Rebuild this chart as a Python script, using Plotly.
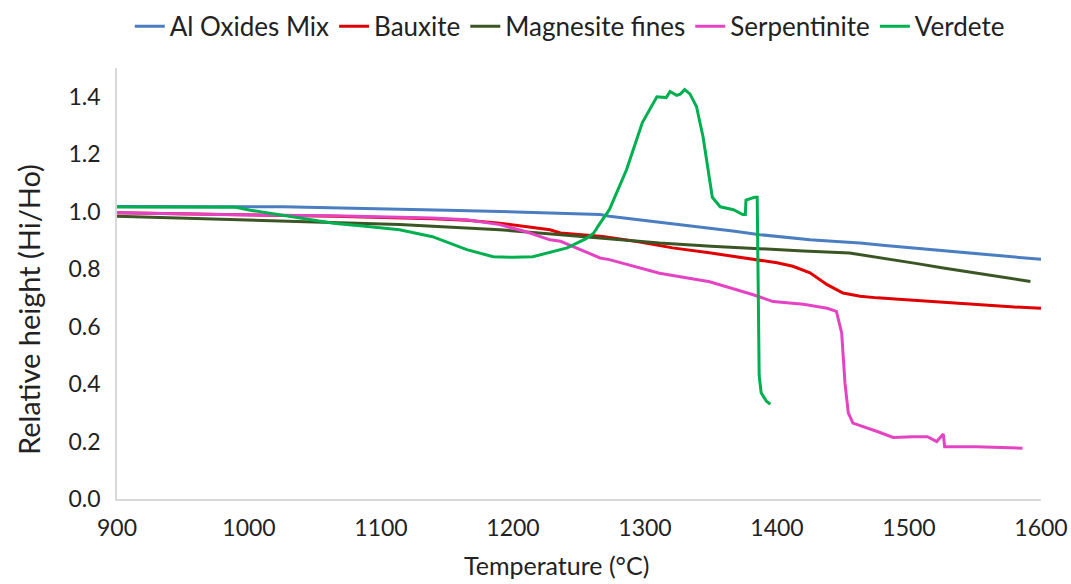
import plotly.graph_objects as go

# ---- data ----
al_T = [900, 950, 1026, 1070, 1114, 1150, 1190, 1236, 1266, 1273, 1290, 1311, 1330, 1349, 1368, 1387, 1405, 1425, 1445, 1463, 1482, 1501, 1520, 1539, 1560, 1580, 1600]
al_y = [1.018, 1.018, 1.017, 1.013, 1.010, 1.005, 1.001, 0.995, 0.990, 0.984, 0.975, 0.964, 0.953, 0.943, 0.932, 0.920, 0.911, 0.902, 0.896, 0.891, 0.882, 0.874, 0.866, 0.858, 0.850, 0.842, 0.834]

bx_T = [900, 988, 1064, 1139, 1165, 1190, 1210, 1228, 1236, 1268, 1295, 1321, 1350, 1382, 1400, 1412, 1425, 1438, 1450, 1463, 1476, 1495, 1514, 1540, 1564, 1580, 1600]
bx_y = [0.996, 0.990, 0.984, 0.975, 0.970, 0.960, 0.948, 0.937, 0.926, 0.914, 0.895, 0.874, 0.856, 0.833, 0.822, 0.810, 0.787, 0.746, 0.717, 0.706, 0.700, 0.694, 0.688, 0.680, 0.672, 0.668, 0.664]

mg_T = [900, 963, 1039, 1114, 1150, 1190, 1236, 1266, 1311, 1350, 1387, 1420, 1455, 1470, 1488, 1505, 1526, 1545, 1564, 1580, 1592]
mg_y = [0.984, 0.975, 0.966, 0.955, 0.947, 0.937, 0.920, 0.908, 0.891, 0.880, 0.870, 0.863, 0.856, 0.846, 0.833, 0.820, 0.804, 0.790, 0.777, 0.766, 0.757]

sp_T = [900, 976, 1064, 1139, 1165, 1190, 1210, 1228, 1236, 1266, 1273, 1311, 1349, 1382, 1397, 1420, 1438, 1445, 1449, 1450, 1451.5, 1454, 1457.5, 1476, 1488, 1503, 1514, 1521, 1526, 1527, 1551, 1586]
sp_y = [0.996, 0.990, 0.986, 0.978, 0.972, 0.955, 0.930, 0.902, 0.897, 0.839, 0.833, 0.786, 0.756, 0.711, 0.687, 0.678, 0.664, 0.653, 0.578, 0.519, 0.403, 0.300, 0.264, 0.235, 0.214, 0.217, 0.217, 0.200, 0.226, 0.182, 0.182, 0.177]

vd_T = [900, 950, 990, 1001, 1030, 1064, 1090, 1114, 1139, 1165, 1185, 1200, 1215, 1241, 1255, 1261, 1266, 1273, 1286, 1298, 1309, 1316, 1319, 1324, 1327, 1330, 1334, 1336, 1339, 1344, 1348, 1351, 1357, 1367, 1374, 1376, 1376.5, 1380, 1383, 1385, 1385.5, 1386, 1386.5, 1388, 1392, 1395]
vd_y = [1.016, 1.016, 1.015, 1.005, 0.985, 0.960, 0.948, 0.937, 0.913, 0.868, 0.843, 0.841, 0.843, 0.874, 0.905, 0.925, 0.960, 1.007, 1.146, 1.310, 1.400, 1.397, 1.418, 1.405, 1.410, 1.425, 1.410, 1.390, 1.366, 1.260, 1.146, 1.050, 1.017, 1.007, 0.990, 0.990, 1.040, 1.045, 1.050, 1.050, 0.900, 0.600, 0.430, 0.370, 0.340, 0.330]

series = [
    ("Al Oxides Mix", al_T, al_y, "#4A7EC0"),
    ("Bauxite", bx_T, bx_y, "#E00000"),
    ("Magnesite fines", mg_T, mg_y, "#3B5624"),
    ("Serpentinite", sp_T, sp_y, "#E444C4"),
    ("Verdete", vd_T, vd_y, "#00B050"),
]

x_ticks = [900, 1000, 1100, 1200, 1300, 1400, 1500, 1600]
y_ticks = [0.0, 0.2, 0.4, 0.6, 0.8, 1.0, 1.2, 1.4]
x_title = "Temperature (°C)"
y_title = "Relative height (Hi/Ho)"

FONT = "Lato, 'Open Sans', sans-serif"

fig = go.Figure()
for name, xs, ys, col in series:
    fig.add_trace(go.Scatter(x=xs, y=ys, mode="lines", name=name,
                             line=dict(color=col, width=3)))

fig.update_layout(
    width=1071, height=584,
    margin=dict(l=117, r=30, t=68, b=85, autoexpand=False),
    paper_bgcolor="white", plot_bgcolor="white",
    font=dict(family=FONT, size=22, color="#222222"),
    legend=dict(orientation="h", x=0.49, xanchor="center", y=0.995, yanchor="top",
                yref="container", font=dict(size=26), itemwidth=30,
                tracegroupgap=0),
    showlegend=True,
)
fig.update_xaxes(range=[900, 1600], tickvals=x_ticks, ticktext=[str(v) for v in x_ticks],
                 showgrid=False, showline=True, linecolor="#D9D9D9", linewidth=1.5,
                 zeroline=False, ticks="", ticklen=0, ticklabelstandoff=8,
                 ticklabeloverflow="allow", automargin=False,
                 tickfont=dict(size=23))
fig.update_yaxes(range=[0, 1.5], tickvals=y_ticks, ticktext=[f"{v:.1f}" for v in y_ticks],
                 showgrid=False, showline=True, linecolor="#D9D9D9", linewidth=1.5,
                 zeroline=False, ticks="", ticklen=0, ticklabelstandoff=10,
                 automargin=False, tickfont=dict(size=23))

# axis titles placed like the reference (slightly off-centre)
fig.add_annotation(text=x_title, xref="paper", yref="paper", x=0.476, y=-0.152,
                   xanchor="center", yanchor="middle", showarrow=False,
                   font=dict(size=25))
fig.add_annotation(text=y_title, xref="paper", yref="paper", x=-0.0963, y=0.4385,
                   xanchor="center", yanchor="middle", showarrow=False, textangle=-90,
                   font=dict(size=29))

fig.write_html("out.html")
